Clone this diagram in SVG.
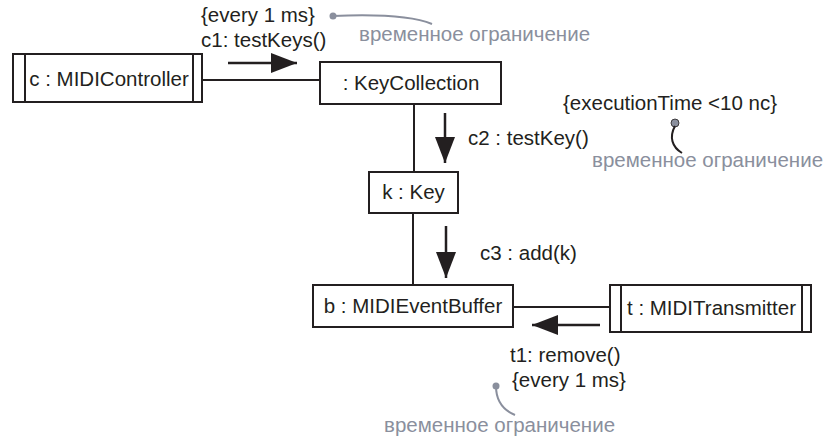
<svg xmlns="http://www.w3.org/2000/svg" width="826" height="440" viewBox="0 0 826 440">
<style>
.box{fill:#fff;stroke:#231f20;stroke-width:2}
.bar{stroke:#231f20;stroke-width:2}
.t{font-family:"Liberation Sans",Arial,sans-serif;font-size:20.5px;fill:#231f20}
.g{font-family:"Liberation Sans",Arial,sans-serif;font-size:20.5px;fill:#8a8f9d}
.link{stroke:#231f20;stroke-width:2;fill:none}
.msg{stroke:#231f20;stroke-width:2.5;fill:none;marker-end:url(#ah)}
.note{stroke:#8a8f9d;stroke-width:2;fill:none}
.dot{fill:#8a8f9d}
</style>
<defs>
<marker id="ah" markerUnits="userSpaceOnUse" markerWidth="26" markerHeight="20" refX="26" refY="10" orient="auto" viewBox="0 0 26 20">
<path d="M0,0 L26,10 L0,20 z" fill="#231f20"/>
</marker>
</defs>
<g id="connectors">
<line class="link" x1="202" y1="80" x2="320" y2="80"/>
<line class="link" x1="414" y1="104" x2="414" y2="172"/>
<line class="link" x1="413" y1="213" x2="413" y2="285"/>
<line class="link" x1="513" y1="307" x2="610" y2="307"/>
<line class="msg" x1="228" y1="63" x2="297" y2="63"/>
<line class="msg" x1="445" y1="113" x2="445" y2="163"/>
<line class="msg" x1="446" y1="226" x2="446" y2="278"/>
<line class="msg" x1="600" y1="325" x2="532" y2="325"/>
</g>
<g id="controller">
<rect class="box" x="13" y="54" width="189" height="48"/>
<line class="bar" x1="25" y1="54" x2="25" y2="102"/>
<line class="bar" x1="193" y1="54" x2="193" y2="102"/>
<text class="t" x="109" y="86" text-anchor="middle">c : MIDIController</text>
</g>
<g id="keycollection">
<rect class="box" x="320" y="62" width="181" height="42"/>
<text class="t" x="411" y="90" text-anchor="middle">: KeyCollection</text>
</g>
<g id="key">
<rect class="box" x="369" y="172" width="89" height="41"/>
<text class="t" x="413.5" y="199" text-anchor="middle">k : Key</text>
</g>
<g id="buffer">
<rect class="box" x="313" y="285" width="200" height="42"/>
<text class="t" x="413" y="313" text-anchor="middle">b : MIDIEventBuffer</text>
</g>
<g id="transmitter">
<rect class="box" x="610" y="285" width="201" height="47"/>
<line class="bar" x1="621" y1="285" x2="621" y2="332"/>
<line class="bar" x1="802" y1="285" x2="802" y2="332"/>
<text class="t" x="711.5" y="315" text-anchor="middle">t : MIDITransmitter</text>
</g>
<g id="labels">
<text class="t" x="201" y="22">{every 1 ms}</text>
<text class="t" x="201" y="47">c1: testKeys()</text>
<text class="t" x="468" y="145">c2 : testKey()</text>
<text class="t" x="480" y="260">c3 : add(k)</text>
<text class="t" x="510" y="362">t1: remove()</text>
<text class="t" x="512" y="387">{every 1 ms}</text>
<text class="t" x="563" y="110">{executionTime &lt;10 nc}</text>
</g>
<g id="constraint-top">
<circle class="dot" cx="333" cy="16" r="3.5"/>
<path class="note" d="M333,16 C380,14 415,17 432,24"/>
<text class="g" x="359" y="41">временное ограничение</text>
</g>
<g id="constraint-mid">
<circle class="dot" cx="675" cy="123" r="4" stroke="#231f20" stroke-width="0.8"/>
<path class="link" d="M675,126 C669,137 672,147 682,153"/>
<text class="g" x="592" y="167">временное ограничение</text>
</g>
<g id="constraint-bottom">
<circle class="dot" cx="496" cy="386" r="3.5"/>
<path class="note" d="M496,386 C496,400 503,410 515,415"/>
<text class="g" x="384" y="432">временное ограничение</text>
</g>
</svg>
